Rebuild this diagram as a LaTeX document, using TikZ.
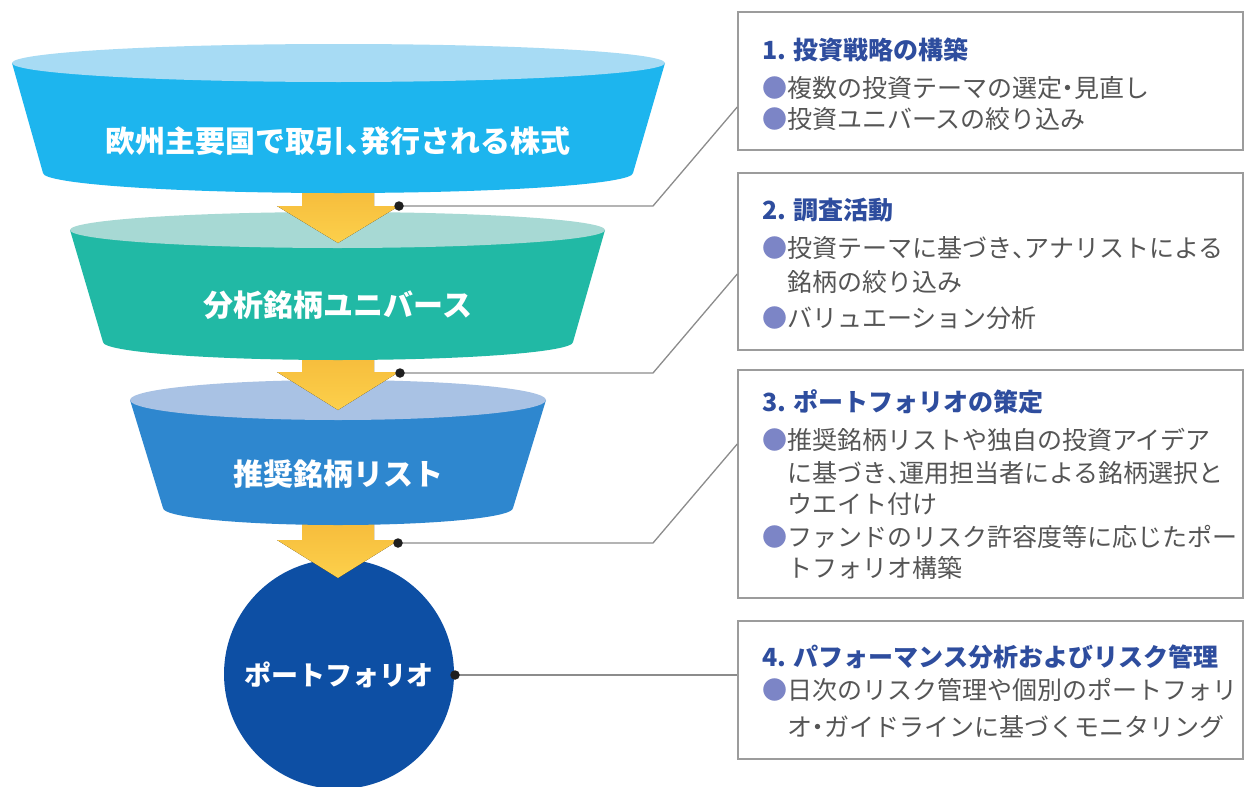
\documentclass[tikz,border=0pt]{standalone}
\usepackage{fontspec}
\setmainfont{Noto Sans CJK JP}
\usetikzlibrary{shapes.geometric}
\definecolor{fonebody}{HTML}{1DB5EE}
\definecolor{fonetop}{HTML}{A7DBF4}
\definecolor{ftwobody}{HTML}{21B9A5}
\definecolor{ftwotop}{HTML}{A7D9D4}
\definecolor{fthreebody}{HTML}{2E87CF}
\definecolor{fthreetop}{HTML}{A9C2E4}
\definecolor{circc}{HTML}{0D4FA4}
\definecolor{arrtop}{HTML}{F4B536}
\definecolor{arrbot}{HTML}{FCD04B}
\definecolor{linec}{HTML}{8C8C8C}
\definecolor{boxc}{HTML}{9C9C9C}
\definecolor{titlec}{HTML}{2E4D9E}
\definecolor{bodyc}{HTML}{555555}
\definecolor{bulc}{HTML}{7C85C6}
\newcommand\bul{{\color{bulc}●}}
\newcommand\hcomma{{\addfontfeature{RawFeature=+halt}、}}
\newcommand\hdot{{\addfontfeature{RawFeature=+halt}・}}
\begin{document}
\begin{tikzpicture}[x=1pt,y=-1pt,
  ftext/.style={text=white,font=\fontsize{30}{36}\selectfont\bfseries,inner sep=0pt},
  arrowshape/.style={top color=arrtop,bottom color=arrbot,draw=none},
  dotnode/.style={circle,fill=black!88,inner sep=0pt,minimum size=9.5pt},
  conn/.style={draw=linec,line width=1.3pt},
  stepbox/.style={draw=boxc,line width=1.5pt,fill=white,rectangle,inner sep=0pt,minimum width=505pt},
  ttl/.style={anchor=base west,inner sep=0pt,text=titlec,font=\fontsize{25}{30}\selectfont\bfseries},
  bodyline/.style={anchor=base west,inner sep=0pt,text=bodyc,font=\fontsize{25}{30}\selectfont}]
\useasboundingbox (0,0) rectangle (1248,787);
\fill[white] (0,0) rectangle (1248,787);

% ---- portfolio circle ----
\fill[circc] (339,674) ellipse[x radius=115,y radius=115];
\node[ftext,font=\fontsize{27}{32}\selectfont\bfseries] (p4) at (339,675) {ポートフォリオ};

% ---- arrow 3 ----
\fill[arrowshape] (302,500) -- (374,500) -- (374,540) -- (399,540) -- (338,578) -- (277,540) -- (302,540) -- cycle;

% ---- funnel 3 ----
\fill[fthreebody] (130,400) -- (163,508) arc[start angle=180,end angle=0,x radius=175,y radius=17] -- (546,400) -- cycle;
\fill[fthreetop] (338,400) ellipse[x radius=208,y radius=20];
\node[ftext] (p3) at (338,474) {推奨銘柄リスト};

% ---- arrow 2 ----
\fill[arrowshape] (302,335) -- (374,335) -- (374,372) -- (399,372) -- (338,410) -- (277,372) -- (302,372) -- cycle;

% ---- funnel 2 ----
\fill[ftwobody] (70,230) -- (103,342) arc[start angle=180,end angle=0,x radius=235,y radius=18] -- (605,230) -- cycle;
\fill[ftwotop] (337.5,230) ellipse[x radius=267.5,y radius=18];
\node[ftext] (p2) at (338,305) {分析銘柄ユニバース};

% ---- arrow 1 ----
\fill[arrowshape] (302,170) -- (374,170) -- (374,206) -- (399,206) -- (338,243) -- (277,206) -- (302,206) -- cycle;

% ---- funnel 1 ----
\fill[fonebody] (12,63) -- (43,173) arc[start angle=180,end angle=0,x radius=295,y radius=20] -- (665,63) -- cycle;
\fill[fonetop] (338.5,63) ellipse[x radius=326.5,y radius=19];
\node[ftext] (p1) at (338,141) {欧州主要国で取引\hcomma 発行される株式};

% ---- boxes ----
\node[stepbox,minimum height=138pt] (b1) at (990.5,81) {};
\node[stepbox,minimum height=177pt] (b2) at (990.5,261.5) {};
\node[stepbox,minimum height=228pt] (b3) at (990.5,484) {};
\node[stepbox,minimum height=138pt] (b4) at (990.5,690) {};

% ---- dots and connector corners ----
\coordinate (k1) at (653,206);
\coordinate (k2) at (653,373);
\coordinate (k3) at (653,543);
\coordinate (e1) at (b1.west |- 0,107);
\coordinate (e2) at (b2.west |- 0,274);
\coordinate (e3) at (b3.west |- 0,444);
\coordinate (e4) at (b4.west |- 0,675);
\coordinate (d1) at (399,206);
\coordinate (d2) at (400,373);
\coordinate (d3) at (398,543);
\coordinate (d4) at (455,675);
\draw[conn] (d1) -- (k1) -- (e1);
\draw[conn] (d2) -- (k2) -- (e2);
\draw[conn] (d3) -- (k3) -- (e3);
\draw[conn] (d4) -- (e4);
\node[dotnode] (n1) at (d1) {};
\node[dotnode] (n2) at (d2) {};
\node[dotnode] (n3) at (d3) {};
\node[dotnode] (n4) at (d4) {};

% ---- box 1 text ----
\node[ttl] (t1) at (762,59.5) {1. 投資戦略の構築};
\node[bodyline] (t1a) at (762,97.5) {\bul 複数の投資テーマの選定\hdot 見直し};
\node[bodyline] (t1b) at (762,128.5) {\bul 投資ユニバースの絞り込み};

% ---- box 2 text ----
\node[ttl] (t2) at (762,219.5) {2. 調査活動};
\node[bodyline] (t2a) at (762,257.5) {\bul 投資テーマに基づき\hcomma アナリストによる};
\node[bodyline] (t2b) at (787,291.5) {銘柄の絞り込み};
\node[bodyline] (t2c) at (762,327.5) {\bul バリュエーション分析};

% ---- box 3 text ----
\node[ttl] (t3) at (762,411.5) {3. ポートフォリオの策定};
\node[bodyline] (t3a) at (762,449.5) {\bul 推奨銘柄リストや独自の投資アイデア};
\node[bodyline] (t3b) at (787,482.5) {に基づき\hcomma 運用担当者による銘柄選択と};
\node[bodyline] (t3c) at (787,513.5) {ウエイト付け};
\node[bodyline] (t3d) at (762,546.5) {\bul ファンドのリスク許容度等に応じたポー};
\node[bodyline] (t3e) at (787,577.5) {トフォリオ構築};

% ---- box 4 text ----
\node[ttl] (t4) at (762,666.5) {4. パフォーマンス分析およびリスク管理};
\node[bodyline] (t4a) at (762,699.5) {\bul 日次のリスク管理や個別のポートフォリ};
\node[bodyline] (t4b) at (787,736.5) {オ\hdot ガイドラインに基づくモニタリング};
\end{tikzpicture}
\end{document}
